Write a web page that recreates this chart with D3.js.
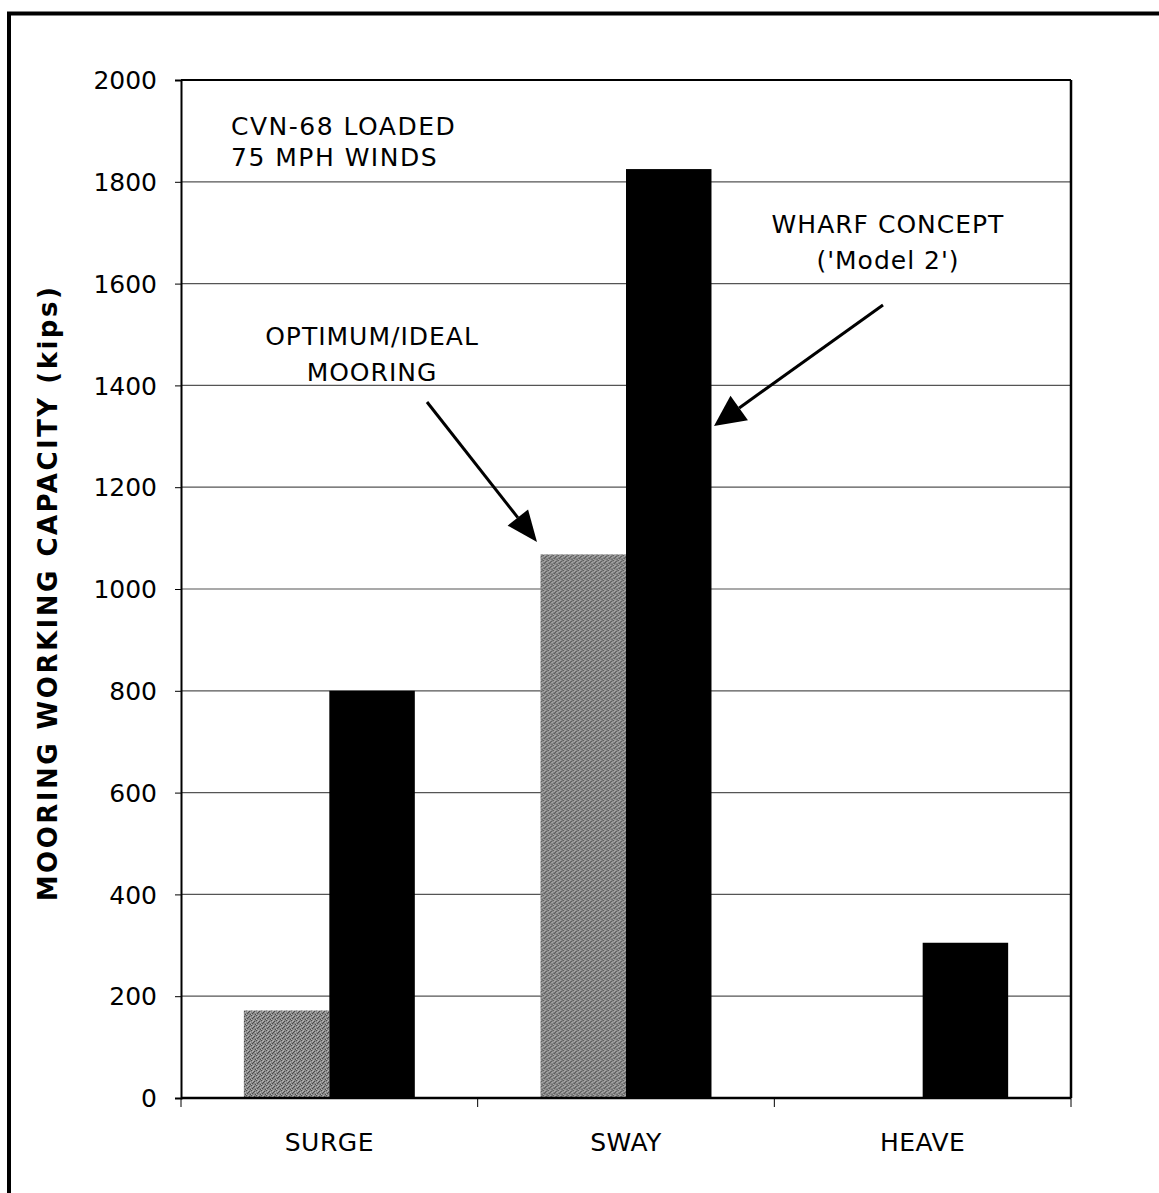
<!DOCTYPE html>
<html>
<head>
<meta charset="utf-8">
<script src="https://cdn.jsdelivr.net/npm/d3@7"></script>
<style>
  html, body { margin: 0; padding: 0; background: #fff; }
  svg { display: block; }
  text { font-family: "DejaVu Sans", "Liberation Sans", Arial, sans-serif; fill: #000; }
</style>
</head>
<body>
<svg id="chart" width="1159" height="1193"></svg>
<script>
// ---- data ----
const categories = ["SURGE", "SWAY", "HEAVE"];
const seriesNames = ["OPTIMUM/IDEAL MOORING", "WHARF CONCEPT ('Model 2')"];
const optimumValues = [172, 1068, 0];
const wharfValues = [800, 1825, 305];
const yTicks = [0, 200, 400, 600, 800, 1000, 1200, 1400, 1600, 1800, 2000];
const yTitle = "MOORING WORKING CAPACITY (kips)";
const noteLines = ["CVN-68 LOADED", "75 MPH WINDS"];
const optimumLabel = ["OPTIMUM/IDEAL", "MOORING"];
const wharfLabel = ["WHARF CONCEPT", "('Model 2')"];

const svg = d3.select("#chart");
const W = 1159, H = 1193;
const plot = { left: 181, top: 80, right: 1071, bottom: 1098 };

// outer frame (top and left edges visible)
svg.append("line").attr("x1", 7).attr("x2", W).attr("y1", 13.5).attr("y2", 13.5)
  .attr("stroke", "#000").attr("stroke-width", 4);
svg.append("line").attr("x1", 9).attr("x2", 9).attr("y1", 12).attr("y2", H)
  .attr("stroke", "#000").attr("stroke-width", 4);

const x0 = d3.scaleBand().domain(categories).range([plot.left, plot.right]).padding(0);
const step = x0.bandwidth();
const gap = step * 0.4237;
const x1 = d3.scaleBand().domain(seriesNames).range([gap / 2, step - gap / 2]).padding(0);
const y = d3.scaleLinear().domain([0, 2000]).range([plot.bottom, plot.top]);

// gridlines
svg.append("g").selectAll("line").data(yTicks.filter(v => v > 0 && v < 2000)).join("line")
  .attr("x1", plot.left).attr("x2", plot.right)
  .attr("y1", d => y(d)).attr("y2", d => y(d))
  .attr("stroke", "#555").attr("stroke-width", 1.2);

// stipple pattern for grey bars
const defs = svg.append("defs");
const pat = defs.append("pattern").attr("id", "stipple").attr("patternUnits", "userSpaceOnUse")
  .attr("width", 5).attr("height", 5);
pat.append("rect").attr("width", 5).attr("height", 5).attr("fill", "#8a8a8a");
[[0,0],[3,1],[1,3],[4,4],[2,2]].forEach(p => pat.append("rect").attr("x", p[0]).attr("y", p[1])
  .attr("width", 1).attr("height", 1).attr("fill", "#4a4a4a"));
[[2,0],[4,2],[0,4],[1,1]].forEach(p => pat.append("rect").attr("x", p[0]).attr("y", p[1])
  .attr("width", 1).attr("height", 1).attr("fill", "#b4b4b4"));

const rows = categories.map((c, i) => ({ cat: c, vals: [optimumValues[i], wharfValues[i]] }));
const groups = svg.append("g").selectAll("g").data(rows).join("g")
  .attr("transform", d => `translate(${x0(d.cat)},0)`);
groups.selectAll("rect").data(d => d.vals.map((v, j) => ({ s: seriesNames[j], v, j }))).join("rect")
  .attr("x", d => x1(d.s))
  .attr("width", x1.bandwidth())
  .attr("y", d => y(d.v))
  .attr("height", d => y(0) - y(d.v))
  .attr("fill", d => d.j === 0 ? "url(#stipple)" : "#000");

// plot frame (top, right)
svg.append("line").attr("x1", plot.left).attr("x2", plot.right).attr("y1", plot.top).attr("y2", plot.top)
  .attr("stroke", "#000").attr("stroke-width", 2);
svg.append("line").attr("x1", plot.right).attr("x2", plot.right).attr("y1", plot.top).attr("y2", plot.bottom)
  .attr("stroke", "#000").attr("stroke-width", 2.5);

// y axis
const yAxis = svg.append("g").attr("transform", `translate(${plot.left},0)`)
  .call(d3.axisLeft(y).tickValues(yTicks).tickSize(6).tickPadding(18).tickFormat(d3.format("d")));
yAxis.select(".domain").attr("stroke", "#000").attr("stroke-width", 2);
yAxis.selectAll(".tick line").attr("stroke", "#000").attr("stroke-width", 1);
yAxis.selectAll(".tick text").attr("font-size", 25).attr("dy", "0.35em")
  .style("font-family", "'DejaVu Sans', 'Liberation Sans', Arial, sans-serif");

// x axis
const xAxis = svg.append("g").attr("transform", `translate(0,${plot.bottom})`);
xAxis.append("line").attr("x1", plot.left).attr("x2", plot.right).attr("y1", 0).attr("y2", 0)
  .attr("stroke", "#000").attr("stroke-width", 2.5);
const boundaries = [plot.left].concat(categories.map(c => x0(c) + step));
xAxis.selectAll("line.tk").data(boundaries).join("line").attr("class", "tk")
  .attr("x1", d => d).attr("x2", d => d).attr("y1", 0).attr("y2", 9)
  .attr("stroke", "#000").attr("stroke-width", 1);
xAxis.selectAll("text").data(categories).join("text")
  .attr("x", d => x0(d) + step / 2).attr("y", 53)
  .attr("text-anchor", "middle").attr("font-size", 25).attr("letter-spacing", 0.5).text(d => d);

// y title
svg.append("text")
  .attr("transform", `translate(57,593) rotate(-90)`)
  .attr("text-anchor", "middle").attr("font-size", 26).attr("font-weight", "bold")
  .attr("letter-spacing", 2.5)
  .text(yTitle);

// notes
svg.append("g").selectAll("text").data(noteLines).join("text")
  .attr("x", 231).attr("y", (d, i) => 135 + i * 31).attr("font-size", 25)
  .attr("letter-spacing", 1.5).text(d => d);

svg.append("g").selectAll("text").data(optimumLabel).join("text")
  .attr("x", 372).attr("y", (d, i) => 345 + i * 36).attr("text-anchor", "middle")
  .attr("font-size", 25).attr("letter-spacing", 1).text(d => d);

svg.append("g").selectAll("text").data(wharfLabel).join("text")
  .attr("x", 888).attr("y", (d, i) => 233 + i * 36).attr("text-anchor", "middle")
  .attr("font-size", 25).attr("letter-spacing", 1).text(d => d);

// arrows
function arrow(x1a, y1a, x2a, y2a, L, Wd) {
  const ang = Math.atan2(y2a - y1a, x2a - x1a);
  const bx = x2a - L * Math.cos(ang), by = y2a - L * Math.sin(ang);
  svg.append("line").attr("x1", x1a).attr("y1", y1a).attr("x2", bx).attr("y2", by)
    .attr("stroke", "#000").attr("stroke-width", 3);
  const px = -Math.sin(ang), py = Math.cos(ang);
  svg.append("path")
    .attr("d", `M${x2a},${y2a}L${bx + px * Wd},${by + py * Wd}L${bx - px * Wd},${by - py * Wd}Z`)
    .attr("fill", "#000");
}
arrow(427, 402, 537, 542, 31, 13);
arrow(883, 305, 714, 426, 31, 15);
</script>
</body>
</html>
